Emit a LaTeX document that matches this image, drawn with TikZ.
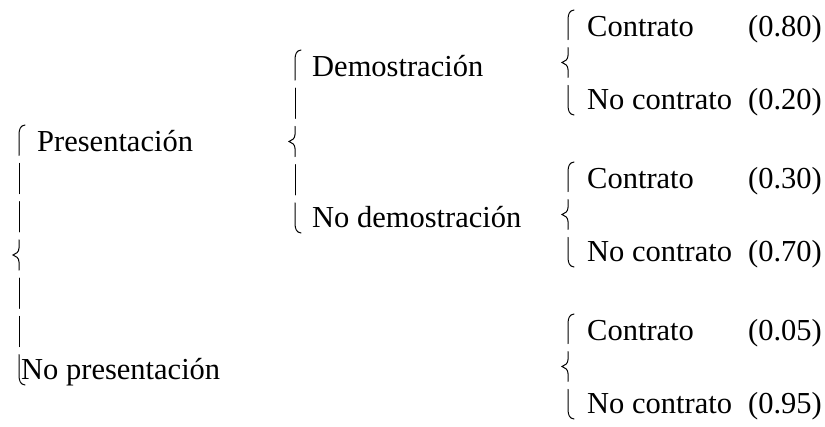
\documentclass[tikz,border=0pt]{standalone}
\usepackage{fontspec}
\setmainfont{Liberation Serif}
\usetikzlibrary{positioning, calc}
\definecolor{inkcol}{HTML}{000000}
\tikzset{
    every node/.style={font=\fontsize{30.5}{36}\selectfont, text=inkcol},
    branch/.style={anchor=base west, inner sep=0pt},
    prob/.style={anchor=base west, inner sep=0pt},
    bracestroke/.style={draw=inkcol, line width=1pt, line cap=round},
}

% brace built from pieces: x, upper node, lower node, number of pieces
\newcommand{\brokenbrace}[4]{%
    \path (#2.base); \pgfgetlastxy{\bracex}{\bracetop}
    \path (#3.base); \pgfgetlastxy{\bracex}{\bracebot}
    \pgfmathsetmacro{\bracetop}{\bracetop+27}
    \pgfmathsetmacro{\bracebot}{\bracebot-5}
    \pgfmathsetmacro{\bracepiece}{(\bracetop-\bracebot-(#4-1)*8)/#4}
    \pgfmathtruncatemacro{\bracemid}{(#4+1)/2}
    \foreach \i in {1,...,#4}{
        \pgfmathsetmacro{\ty}{\bracetop-(\i-1)*(\bracepiece+8)}
        \pgfmathsetmacro{\by}{\ty-\bracepiece}
        \pgfmathsetmacro{\my}{(\ty+\by)/2}
        \ifnum\i=1
            \draw[bracestroke] ({#1pt+6pt},{\ty pt})
                .. controls ({#1pt+1.5pt},{\ty pt-0.5pt}) and ({#1pt},{\ty pt-4pt})
                .. ({#1pt},{\ty pt-10pt}) -- ({#1pt},{\by pt});
        \else\ifnum\i=#4
            \draw[bracestroke] ({#1pt},{\ty pt}) -- ({#1pt},{\by pt+10pt})
                .. controls ({#1pt},{\by pt+4pt}) and ({#1pt+1.5pt},{\by pt+0.5pt})
                .. ({#1pt+6pt},{\by pt});
        \else\ifnum\i=\bracemid
            \draw[bracestroke] ({#1pt},{\ty pt}) -- ({#1pt},{\my pt+7pt})
                .. controls ({#1pt},{\my pt+3pt}) and ({#1pt-3pt},{\my pt+1pt})
                .. ({#1pt-6pt},{\my pt})
                .. controls ({#1pt-3pt},{\my pt-1pt}) and ({#1pt},{\my pt-3pt})
                .. ({#1pt},{\my pt-7pt}) -- ({#1pt},{\by pt});
        \else
            \draw[bracestroke] ({#1pt},{\ty pt}) -- ({#1pt},{\by pt});
        \fi\fi\fi
    }
}

\begin{document}
\begin{tikzpicture}[x=1pt, y=-1pt]
\useasboundingbox (0,0) rectangle (825,427);

% ── First level ────────────────────────────────────────────────────
\node[branch] (pres) at (37,152) {Presentación};
\node[branch] (nopres) at (21,380) {No presentación};

% ── Second level ───────────────────────────────────────────────────
\node[branch] (demo) at (312,77) {Demostración};
\node[branch] (nodemo) at (312,228) {No demostración};

% ── Outcomes ───────────────────────────────────────────────────────
\node[branch] (c1) at (587,37) {Contrato};
\node[branch] (nc1) at (587,110) {No contrato};
\node[branch] (c2) at (587,189) {Contrato};
\node[branch] (nc2) at (587,262) {No contrato};
\node[branch] (c3) at (587,341) {Contrato};
\node[branch] (nc3) at (587,414) {No contrato};

\node[prob] (p1) at (748,37) {(0.80)};
\node[prob] (q1) at (748,110) {(0.20)};
\node[prob] (p2) at (748,189) {(0.30)};
\node[prob] (q2) at (748,262) {(0.70)};
\node[prob] (p3) at (748,341) {(0.05)};
\node[prob] (q3) at (748,414) {(0.95)};

% ── Braces ─────────────────────────────────────────────────────────
\brokenbrace{19}{pres}{nopres}{7}
\brokenbrace{295}{demo}{nodemo}{5}
\brokenbrace{568}{c1}{nc1}{3}
\brokenbrace{568}{c2}{nc2}{3}
\brokenbrace{568}{c3}{nc3}{3}

\end{tikzpicture}
\end{document}
